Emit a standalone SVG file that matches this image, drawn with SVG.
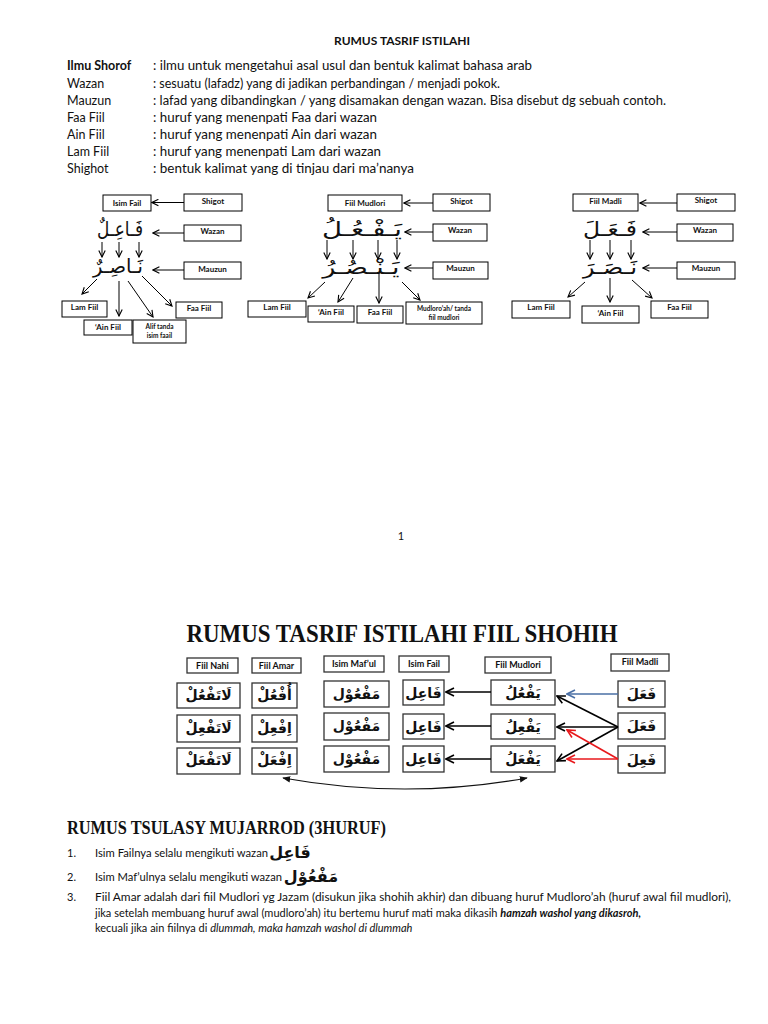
<svg xmlns="http://www.w3.org/2000/svg" width="768" height="1024" viewBox="0 0 768 1024">
<style>
.t{font-family:Lato,'Liberation Sans',sans-serif;fill:#111}
.def{font-size:12.5px}
.lbl{font-family:Lato,'Liberation Sans',sans-serif;font-size:8px;font-weight:bold;text-anchor:middle;fill:#111}
.sm{font-family:Lato,'Liberation Sans',sans-serif;font-size:6.5px;font-weight:bold;text-anchor:middle;fill:#111}
.hd{font-family:Lato,'Liberation Sans',sans-serif;font-size:9px;font-weight:bold;text-anchor:middle;fill:#111}
.ar{font-family:'DejaVu Sans',sans-serif;font-weight:bold;text-anchor:middle;fill:#111}
.ar1{font-family:'DejaVu Sans',sans-serif;font-size:20px;font-weight:normal;text-anchor:middle;fill:#111}
.ar2{font-size:14px}
.b1{fill:#fff;stroke:#000;stroke-width:1}
.b2{fill:#fff;stroke:#333;stroke-width:1.3}
.c1{stroke:#000;stroke-width:1;fill:none;marker-end:url(#a1)}
.c2{stroke:#000;stroke-width:1.6;fill:none;marker-end:url(#a2)}
.cb{stroke:#4a6fa5;stroke-width:1.6;fill:none;marker-end:url(#a2b)}
.cr{stroke:#e8191c;stroke-width:1.6;fill:none;marker-end:url(#a2r)}
.lst{font-family:Lato,'Liberation Sans',sans-serif;font-size:11px;fill:#111}
</style>
<defs>
<marker id="a1" viewBox="0 0 10 10" refX="9" refY="5" markerWidth="8" markerHeight="8" orient="auto" markerUnits="userSpaceOnUse"><path d="M1,1 L9,5 L1,9" fill="none" stroke="#000" stroke-width="1.4"/></marker>
<marker id="a2" viewBox="0 0 10 10" refX="9" refY="5" markerWidth="10" markerHeight="10" orient="auto" markerUnits="userSpaceOnUse"><path d="M1,1 L9,5 L1,9" fill="none" stroke="#000" stroke-width="1.6"/></marker>
<marker id="a2b" viewBox="0 0 10 10" refX="9" refY="5" markerWidth="10" markerHeight="10" orient="auto" markerUnits="userSpaceOnUse"><path d="M1,1 L9,5 L1,9" fill="none" stroke="#4a6fa5" stroke-width="1.6"/></marker>
<marker id="a2r" viewBox="0 0 10 10" refX="9" refY="5" markerWidth="10" markerHeight="10" orient="auto" markerUnits="userSpaceOnUse"><path d="M1,1 L9,5 L1,9" fill="none" stroke="#e8191c" stroke-width="1.6"/></marker>
<marker id="tri" viewBox="0 0 10 10" refX="9" refY="5" markerWidth="8" markerHeight="8" orient="auto-start-reverse" markerUnits="userSpaceOnUse"><path d="M0,1 L10,5 L0,9 Z" fill="#111"/></marker>
</defs>
<rect width="768" height="1024" fill="#fff"/>

<g id="page1-text">
<text class="t" x="402" y="45" font-size="11" font-weight="bold" text-anchor="middle" textLength="136" lengthAdjust="spacingAndGlyphs">RUMUS TASRIF ISTILAHI</text>
<text class="t def" x="67" y="70" font-weight="bold">Ilmu Shorof</text>
<text class="t def" x="153" y="70" textLength="379" lengthAdjust="spacingAndGlyphs">: ilmu untuk mengetahui asal usul dan bentuk kalimat bahasa arab</text>
<text class="t def" x="67" y="87.5">Wazan</text>
<text class="t def" x="153" y="87.5" textLength="347" lengthAdjust="spacingAndGlyphs">: sesuatu (lafadz) yang di jadikan perbandingan / menjadi pokok.</text>
<text class="t def" x="67" y="105">Mauzun</text>
<text class="t def" x="153" y="105" textLength="513" lengthAdjust="spacingAndGlyphs">: lafad yang dibandingkan / yang disamakan dengan wazan. Bisa disebut dg sebuah contoh.</text>
<text class="t def" x="67" y="122">Faa Fiil</text>
<text class="t def" x="153" y="122" textLength="224" lengthAdjust="spacingAndGlyphs">: huruf yang menenpati Faa dari wazan</text>
<text class="t def" x="67" y="139">Ain Fiil</text>
<text class="t def" x="153" y="139" textLength="224" lengthAdjust="spacingAndGlyphs">: huruf yang menenpati Ain dari wazan</text>
<text class="t def" x="67" y="156">Lam Fiil</text>
<text class="t def" x="153" y="156" textLength="228" lengthAdjust="spacingAndGlyphs">: huruf yang menenpati Lam dari wazan</text>
<text class="t def" x="67" y="173">Shighot</text>
<text class="t def" x="153" y="173" textLength="261" lengthAdjust="spacingAndGlyphs">: bentuk kalimat yang di tinjau dari ma’nanya</text>
</g>

<!-- Diagram 1 -->
<g id="d1-isimfail"><rect class="b1" x="103" y="195" width="48" height="16"/><text class="lbl" x="127" y="206">Isim Fail</text></g>
<g id="d1-shigot"><rect class="b1" x="184" y="194" width="58" height="17"/><text class="lbl" x="213" y="204">Shigot</text></g>
<g id="d1-wazan"><text class="ar1" x="120" y="236" textLength="46" lengthAdjust="spacingAndGlyphs">فَـاعِـلٌ</text></g>
<g id="d1-wazanbox"><rect class="b1" x="184" y="225" width="57" height="16"/><text class="lbl" x="212.5" y="234">Wazan</text></g>
<g id="d1-mauzun"><text class="ar1" x="118" y="273" textLength="50" lengthAdjust="spacingAndGlyphs">نَـاصِـرٌ</text></g>
<g id="d1-mauzunbox"><rect class="b1" x="184" y="262" width="57" height="17"/><text class="lbl" x="212.5" y="272">Mauzun</text></g>
<g id="d1-lam"><rect class="b1" x="62" y="301" width="45" height="16"/><text class="lbl" x="84.5" y="310">Lam Fiil</text></g>
<g id="d1-ain"><rect class="b1" x="84" y="320" width="48" height="15"/><text class="lbl" x="108" y="330">‘Ain Fiil</text></g>
<g id="d1-alif"><rect class="b1" x="133" y="320" width="53" height="23"/><text class="sm" x="159.5" y="329">Alif tanda</text><text class="sm" x="159.5" y="338">isim faail</text></g>
<g id="d1-faa"><rect class="b1" x="176" y="302" width="46" height="16"/><text class="lbl" x="199" y="311">Faa Fiil</text></g>

<!-- Diagram 2 -->
<g id="d2-mudlori"><rect class="b1" x="328" y="195" width="74" height="16"/><text class="lbl" x="365" y="206">Fiil Mudlori</text></g>
<g id="d2-shigot"><rect class="b1" x="433" y="194" width="57" height="17"/><text class="lbl" x="461.5" y="204">Shigot</text></g>
<g id="d2-wazan"><text class="ar1" x="362" y="236" textLength="80" lengthAdjust="spacingAndGlyphs">يَـفْـعُـلُ</text></g>
<g id="d2-wazanbox"><rect class="b1" x="433" y="224" width="54" height="17"/><text class="lbl" x="460" y="233">Wazan</text></g>
<g id="d2-mauzun"><text class="ar1" x="361" y="274" textLength="77" lengthAdjust="spacingAndGlyphs">يَـنْـصُـرُ</text></g>
<g id="d2-mauzunbox"><rect class="b1" x="433" y="262" width="55" height="17"/><text class="lbl" x="460.5" y="271">Mauzun</text></g>
<g id="d2-lam"><rect class="b1" x="248" y="301" width="58" height="16"/><text class="lbl" x="277" y="310">Lam Fiil</text></g>
<g id="d2-ain"><rect class="b1" x="308" y="306" width="46" height="16"/><text class="lbl" x="331" y="315">‘Ain Fiil</text></g>
<g id="d2-faa"><rect class="b1" x="357" y="306" width="46" height="17"/><text class="lbl" x="380" y="315">Faa Fiil</text></g>
<g id="d2-mudloroah"><rect class="b1" x="406" y="302" width="76" height="22"/><text class="sm" x="444" y="311">Mudloro’ah/ tanda</text><text class="sm" x="444" y="320">fiil mudlori</text></g>

<!-- Diagram 3 -->
<g id="d3-madli"><rect class="b1" x="573" y="194" width="65" height="17"/><text class="lbl" x="605.5" y="204">Fiil Madli</text></g>
<g id="d3-shigot"><rect class="b1" x="677" y="194" width="58" height="17"/><text class="lbl" x="706" y="203">Shigot</text></g>
<g id="d3-wazan"><text class="ar1" x="610" y="236" textLength="54" lengthAdjust="spacingAndGlyphs">فَـعَـلَ</text></g>
<g id="d3-wazanbox"><rect class="b1" x="677" y="224" width="56" height="17"/><text class="lbl" x="705" y="233">Wazan</text></g>
<g id="d3-mauzun"><text class="ar1" x="610" y="274" textLength="54" lengthAdjust="spacingAndGlyphs">نَـصَـرَ</text></g>
<g id="d3-mauzunbox"><rect class="b1" x="677" y="262" width="58" height="17"/><text class="lbl" x="706" y="271">Mauzun</text></g>
<g id="d3-lam"><rect class="b1" x="512" y="301" width="58" height="17"/><text class="lbl" x="541" y="310">Lam Fiil</text></g>
<g id="d3-ain"><rect class="b1" x="582" y="306" width="57" height="17"/><text class="lbl" x="610.5" y="316">‘Ain Fiil</text></g>
<g id="d3-faa"><rect class="b1" x="651" y="301" width="57" height="17"/><text class="lbl" x="679.5" y="310">Faa Fiil</text></g>

<g id="connectors-page1">
<path class="c1" d="M184,202.5 L152,202.5"/>
<path class="c1" d="M184,233 L153,233"/>
<path class="c1" d="M184,270 L153,270"/>
<path class="c1" d="M102,242 L102,257"/>
<path class="c1" d="M119,242 L119,257"/>
<path class="c1" d="M139,242 L139,257"/>
<path class="c1" d="M97,279 L82,294"/>
<path class="c1" d="M119,281 L119,316"/>
<path class="c1" d="M128,281 L153,317"/>
<path class="c1" d="M142,276 L172,306"/>

<path class="c1" d="M433,203 L404,203"/>
<path class="c1" d="M433,232 L405,232"/>
<path class="c1" d="M433,268 L405,268"/>
<path class="c1" d="M327,240 L327,259"/>
<path class="c1" d="M353,240 L353,259"/>
<path class="c1" d="M378,240 L378,259"/>
<path class="c1" d="M397,240 L397,259"/>
<path class="c1" d="M325,282 L308,298"/>
<path class="c1" d="M353,278 L338,302"/>
<path class="c1" d="M379,273 L379,303"/>
<path class="c1" d="M402,282 L420,300"/>

<path class="c1" d="M677,203 L640,203"/>
<path class="c1" d="M677,232 L643,232"/>
<path class="c1" d="M677,268 L643,268"/>
<path class="c1" d="M590,240 L590,259"/>
<path class="c1" d="M610,240 L610,259"/>
<path class="c1" d="M631,240 L631,259"/>
<path class="c1" d="M585,282 L568,297"/>
<path class="c1" d="M610,278 L610,302"/>
<path class="c1" d="M632,280 L652,298"/>
</g>

<text class="t" x="401" y="540" font-size="11" text-anchor="middle">1</text>

<!-- Page 2 -->
<text x="402" y="642" font-family="'Liberation Serif',serif" font-size="26" font-weight="bold" text-anchor="middle" fill="#111" textLength="431" lengthAdjust="spacingAndGlyphs">RUMUS TASRIF ISTILAHI FIIL SHOHIH</text>

<g id="h-nahi"><rect class="b2" x="187" y="658" width="51" height="15"/><text class="hd" x="212.5" y="669">Fiil Nahi</text></g>
<g id="h-amar"><rect class="b2" x="252" y="658" width="49" height="15"/><text class="hd" x="276.5" y="669">Fiil Amar</text></g>
<g id="h-maful"><rect class="b2" x="324" y="656" width="60" height="16"/><text class="hd" x="354" y="667">Isim Maf’ul</text></g>
<g id="h-fail"><rect class="b2" x="399" y="656" width="50" height="16"/><text class="hd" x="424" y="667">Isim Fail</text></g>
<g id="h-mudlori"><rect class="b2" x="485" y="657" width="66" height="16"/><text class="hd" x="518" y="668">Fiil Mudlori</text></g>
<g id="h-madli"><rect class="b2" x="611" y="654" width="58" height="17"/><text class="hd" x="640" y="665">Fiil Madli</text></g>

<g id="nahi-1"><rect class="b2" x="177" y="683" width="63" height="25"/><text class="ar ar2" x="208.5" y="700">لَاتَفْعُلْ</text></g>
<g id="nahi-2"><rect class="b2" x="177" y="715" width="63" height="27"/><text class="ar ar2" x="208.5" y="733">لَاتَفْعِلْ</text></g>
<g id="nahi-3"><rect class="b2" x="177" y="748" width="63" height="26"/><text class="ar ar2" x="208.5" y="765">لَاتَفْعَلْ</text></g>

<g id="amar-1"><rect class="b2" x="252" y="683" width="45" height="25"/><text class="ar ar2" x="274.5" y="700">أُفْعُلْ</text></g>
<g id="amar-2"><rect class="b2" x="252" y="715" width="45" height="27"/><text class="ar ar2" x="274.5" y="733">اِفْعِلْ</text></g>
<g id="amar-3"><rect class="b2" x="252" y="748" width="45" height="26"/><text class="ar ar2" x="274.5" y="765">اِفْعَلْ</text></g>

<g id="maful-1"><rect class="b2" x="324" y="681" width="65" height="26"/><text class="ar ar2" x="356.5" y="699">مَفْعُوْل</text></g>
<g id="maful-2"><rect class="b2" x="324" y="713" width="65" height="27"/><text class="ar ar2" x="356.5" y="731">مَفْعُوْل</text></g>
<g id="maful-3"><rect class="b2" x="324" y="746" width="65" height="26"/><text class="ar ar2" x="356.5" y="764">مَفْعُوْل</text></g>

<g id="fail-1"><rect class="b2" x="403" y="680" width="41" height="25"/><text class="ar ar2" x="423.5" y="698">فَاعِل</text></g>
<g id="fail-2"><rect class="b2" x="403" y="714" width="41" height="25"/><text class="ar ar2" x="423.5" y="732">فَاعِل</text></g>
<g id="fail-3"><rect class="b2" x="403" y="746" width="41" height="26"/><text class="ar ar2" x="423.5" y="764">فَاعِل</text></g>

<g id="mudlori-1"><rect class="b2" x="491" y="680" width="64" height="25"/><text class="ar ar2" x="523" y="698">يَفْعُلُ</text></g>
<g id="mudlori-2"><rect class="b2" x="491" y="714" width="64" height="25"/><text class="ar ar2" x="523" y="732">يَفْعِلُ</text></g>
<g id="mudlori-3"><rect class="b2" x="491" y="746" width="64" height="26"/><text class="ar ar2" x="523" y="764">يَفْعَلُ</text></g>

<g id="madli-1"><rect class="b2" x="618" y="681" width="47" height="26"/><text class="ar ar2" x="641.5" y="699">فَعَلَ</text></g>
<g id="madli-2"><rect class="b2" x="618" y="713" width="47" height="26"/><text class="ar ar2" x="641.5" y="731">فَعَلَ</text></g>
<g id="madli-3"><rect class="b2" x="618" y="746" width="47" height="27"/><text class="ar ar2" x="641.5" y="765">فَعِلَ</text></g>

<g id="connectors-page2">
<path class="c2" d="M491,692 L446,692"/>
<path class="c2" d="M491,726 L446,726"/>
<path class="c2" d="M491,759 L446,759"/>
<path class="cb" d="M618,694 L567,694"/>
<path class="c2" d="M618,727 L557,696"/>
<path class="c2" d="M618,727 L557,727"/>
<path class="c2" d="M618,727 L557,761"/>
<path class="cr" d="M618,759 L567,730"/>
<path class="cr" d="M618,759 L567,759"/>
<path d="M283,778 Q405,800 527,778" fill="none" stroke="#111" stroke-width="1.2" marker-start="url(#tri)" marker-end="url(#tri)"/>
</g>

<g id="page2-text">
<text x="67" y="834" font-family="'Liberation Serif',serif" font-size="18" font-weight="bold" fill="#111" textLength="319" lengthAdjust="spacingAndGlyphs">RUMUS TSULASY MUJARROD (3HURUF)</text>
<text class="lst" x="67" y="857">1.</text>
<text class="lst" x="95" y="857" textLength="173" lengthAdjust="spacingAndGlyphs">Isim Failnya selalu mengikuti wazan</text>
<text class="ar" x="290" y="858" font-size="16">فَاعِل</text>
<text class="lst" x="67" y="881">2.</text>
<text class="lst" x="95" y="881" textLength="187" lengthAdjust="spacingAndGlyphs">Isim Maf’ulnya selalu mengikuti wazan</text>
<text class="ar" x="311" y="882" font-size="16">مَفْعُوْل</text>
<text class="lst" x="67" y="901">3.</text>
<text class="lst" x="95" y="901" textLength="636" lengthAdjust="spacingAndGlyphs">Fiil Amar adalah dari fiil Mudlori yg Jazam (disukun jika shohih akhir) dan dibuang huruf Mudloro’ah (huruf awal fiil mudlori),</text>
<text class="lst" x="95" y="917">jika setelah membuang huruf awal (mudloro’ah) itu bertemu huruf mati maka dikasih <tspan font-weight="bold" font-style="italic">hamzah washol yang dikasroh,</tspan></text>
<text class="lst" x="95" y="932">kecuali jika ain fiilnya di <tspan font-style="italic">dlummah, maka hamzah washol di dlummah</tspan></text>
</g>
</svg>
